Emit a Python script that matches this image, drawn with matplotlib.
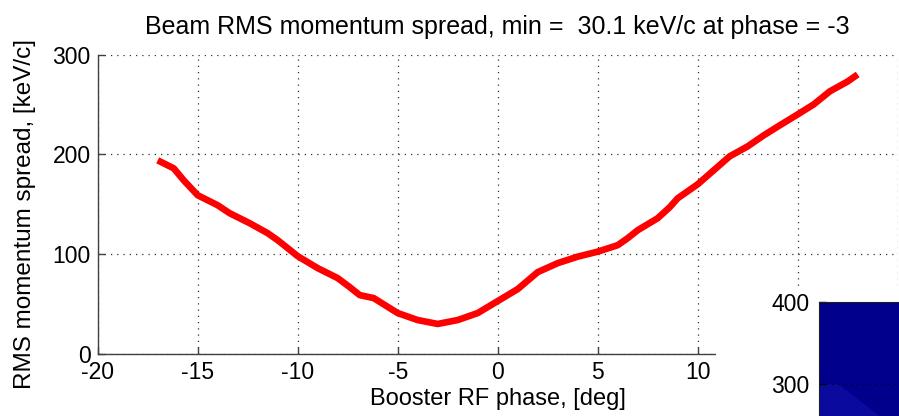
import matplotlib
matplotlib.use("Agg")
import matplotlib.pyplot as plt
from matplotlib.patches import Rectangle, Polygon

plt.rcParams['font.family'] = ['Liberation Sans', 'DejaVu Sans']
plt.rcParams['axes.unicode_minus'] = False

# Booster RF phase scan: RMS momentum spread vs phase
phase_deg = [-17, -16.2, -15.7, -15, -14, -13.4, -12.4, -11.5, -11, -10, -9, -8,
             -7.4, -6.9, -6.2, -5, -4, -3, -2, -1, 0, 1, 2, 3, 4, 5, 6, 6.5,
             7, 8, 8.6, 9, 10, 10.8, 11.6, 12.5, 13.3, 14.1, 15, 15.8, 16.6,
             17.5, 18]
spread_kev = [194, 186, 174, 159, 149, 141, 131, 121, 114, 98, 86, 76,
              67, 59, 56, 41, 34, 30.1, 34, 41, 53, 65, 82, 91, 97.5, 102.5,
              109, 116, 124, 136, 147, 156, 170, 184, 198, 208, 219, 229,
              240, 250, 263, 273, 280]

min_spread = 30.1
min_phase = -3

x_ticks = [-20, -15, -10, -5, 0, 5, 10, 15, 20]
x_ticklabels = ['-20', '-15', '-10', '-5', '0', '5', '10', '', '']
y_ticks = [0, 100, 200, 300]
side_ticks = [300, 400]

W, H = 899, 416
fig = plt.figure(figsize=(W / 100, H / 100), dpi=100)
fig.patch.set_facecolor('white')

def fx(px):
    return px / W

def fy(py):
    return 1 - py / H

ax = fig.add_axes([fx(97.7), fy(354), fx(897.7) - fx(97.7), fy(54.5) - fy(354)])
ax.set_zorder(0)
ax.plot(phase_deg, spread_kev, color='#ff0000', lw=4.8, solid_capstyle='butt',
        solid_joinstyle='round')
ax.set_xlim(-20, 20)
ax.set_ylim(0, 300)
ax.set_xticks(x_ticks)
ax.set_xticklabels(x_ticklabels)
ax.set_yticks(y_ticks)
ax.grid(True, linestyle=(0, (1, 4)), color='#303030', lw=0.9)
for s in ('top', 'right'):
    ax.spines[s].set_visible(False)
for s in ('left', 'bottom'):
    ax.spines[s].set_color('#404040')
    ax.spines[s].set_linewidth(1.0)
ax.tick_params(direction='in', length=5, width=1, colors='#404040',
               labelcolor='black', labelsize=16.5, pad=5)

fig.text(fx(497.7), fy(27), f'Beam RMS momentum spread, min =  {min_spread} keV/c at phase = {min_phase}',
         ha='center', va='center', fontsize=18)

# Right-hand panel covering the lower right of the plot
fig.add_artist(Rectangle((fx(715.5), 0), 1 - fx(715.5), fy(288), transform=fig.transFigure,
                         facecolor='white', edgecolor='none', zorder=1))

fig.text(fx(497.7), fy(399), 'Booster RF phase, [deg]', ha='center', va='center',
         fontsize=17)
fig.text(fx(25), fy(214), 'RMS momentum spread, [keV/c]', ha='center', va='center',
         rotation=90, fontsize=17.5)

# Colour map panel
px_per_unit = (384.3 - 301.7) / 100
bottom_px = 301.7 + 200 * px_per_unit
ax2 = fig.add_axes([fx(819), fy(bottom_px), fx(1100) - fx(819), fy(301.7) - fy(bottom_px)])
ax2.set_zorder(2)
ax2.set_facecolor('#00008c')
ax2.set_xlim(0, 1)
ax2.set_ylim(200, 400)
ax2.add_patch(Polygon([[0, 300], [0.07, 300], [0.45, 200], [0, 200]], closed=True,
                      facecolor='#0a0a9e', edgecolor='none'))
ax2.set_yticks(side_ticks)
ax2.set_xticks([])
ax2.grid(True, axis='y', linestyle=(0, (1, 4)), color='black', lw=0.9)
for s in ax2.spines.values():
    s.set_color('#202020')
ax2.tick_params(direction='in', length=5, width=1, colors='black', labelsize=16.5, pad=7)

fig.savefig('out.png', dpi=100)
